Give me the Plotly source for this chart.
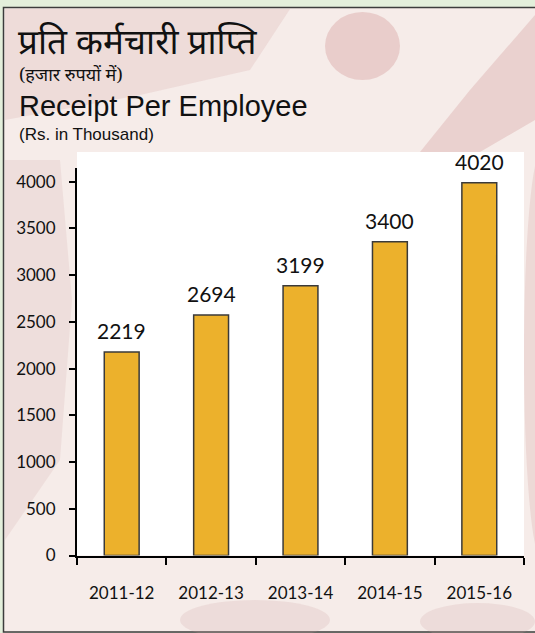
import plotly.graph_objects as go

# ---------------- data ----------------
categories = ["2011-12", "2012-13", "2013-14", "2014-15", "2015-16"]
bar_values = [2178, 2574, 2887, 3358, 3989]          # bar heights as drawn
label_values = ["2219", "2694", "3199", "3400", "4020"]  # printed data labels
y_tick_values = [0, 500, 1000, 1500, 2000, 2500, 3000, 3500, 4000]
y_tick_text = [str(v) for v in y_tick_values]

title_hi = "प्रति कर्मचारी प्राप्ति"
subtitle_hi = "(हजार रुपयों में)"
title_en = "Receipt Per Employee"
subtitle_en = "(Rs. in Thousand)"

# ---------------- layout helpers ----------------
W, H = 535, 633


def px(x):
    return x / W


def py(y):
    return 1 - y / H


NUM_FONT = "Lato, 'Open Sans', sans-serif"

fig = go.Figure(
    go.Bar(
        x=categories,
        y=bar_values,
        cliponaxis=False,
        marker=dict(color="#ECB12C", line=dict(color="#3a3a3a", width=1.5)),
        width=0.39,
        hoverinfo="skip",
    )
)

shapes = [
    # textured panel base
    dict(type="rect", xref="paper", yref="paper", x0=px(3.5), x1=px(560), y0=py(632), y1=py(7.5),
         fillcolor="#f6ece9", line=dict(color="#3c3c3c", width=1.5), layer="below"),
    # soft blotches of the marble background
    dict(type="path", xref="paper", yref="paper",
         path=f"M {px(5)},{py(9)} L {px(290)},{py(9)} L {px(250)},{py(70)} L {px(140)},{py(95)} L {px(5)},{py(120)} Z",
         fillcolor="rgba(215,170,170,0.25)", line=dict(width=0), layer="below"),
    dict(type="circle", xref="paper", yref="paper", x0=px(325), x1=px(400), y0=py(80), y1=py(12),
         fillcolor="rgba(200,125,125,0.28)", line=dict(width=0), layer="below"),
    dict(type="path", xref="paper", yref="paper",
         path=f"M {px(535)},{py(15)} L {px(535)},{py(120)} L {px(480)},{py(152)} L {px(420)},{py(152)} L {px(470)},{py(90)} Z",
         fillcolor="rgba(205,140,140,0.28)", line=dict(width=0), layer="below"),
    dict(type="path", xref="paper", yref="paper",
         path=f"M {px(5)},{py(160)} L {px(60)},{py(160)} L {px(72)},{py(300)} L {px(60)},{py(460)} L {px(5)},{py(540)} Z",
         fillcolor="rgba(210,170,170,0.20)", line=dict(width=0), layer="below"),
    dict(type="circle", xref="paper", yref="paper", x0=px(524), x1=px(560), y0=py(560), y1=py(150),
         fillcolor="rgba(210,160,160,0.25)", line=dict(width=0), layer="below"),
    dict(type="circle", xref="paper", yref="paper", x0=px(180), x1=px(330), y0=py(640), y1=py(600),
         fillcolor="rgba(205,160,160,0.20)", line=dict(width=0), layer="below"),
    dict(type="circle", xref="paper", yref="paper", x0=px(420), x1=px(535), y0=py(640), y1=py(603),
         fillcolor="rgba(205,160,160,0.20)", line=dict(width=0), layer="below"),
    # white plot panel
    dict(type="rect", xref="paper", yref="paper", x0=px(77), x1=px(524), y0=py(555.5), y1=py(152),
         fillcolor="#ffffff", line=dict(width=0), layer="below"),
]

annotations = [
    dict(text=title_hi, xref="paper", yref="paper", x=px(16), y=py(40), xanchor="left", yanchor="middle",
         showarrow=False, font=dict(family="'Noto Serif', 'Noto Sans', serif", size=35, color="#111111")),
    dict(text=subtitle_hi, xref="paper", yref="paper", x=px(17), y=py(74), xanchor="left", yanchor="middle",
         showarrow=False, font=dict(family="'Noto Serif', 'Noto Sans', serif", size=18, color="#111111")),
    dict(text=title_en, xref="paper", yref="paper", x=px(17), y=py(106), xanchor="left", yanchor="middle",
         showarrow=False, font=dict(family="'Liberation Sans', Arial, sans-serif", size=29, color="#111111")),
    dict(text=subtitle_en, xref="paper", yref="paper", x=px(17), y=py(134), xanchor="left", yanchor="middle",
         showarrow=False, font=dict(family="'Liberation Sans', Arial, sans-serif", size=17, color="#111111")),
]

# data labels above bars
for cat, val, lab in zip(categories, bar_values, label_values):
    annotations.append(
        dict(text=lab, x=cat, y=val, xref="x", yref="y", xanchor="center", yanchor="middle",
             yshift=21, showarrow=False,
             font=dict(family=NUM_FONT, size=21, color="#111111"))
    )

fig.update_layout(
    width=W,
    height=H,
    autosize=False,
    margin=dict(l=0, r=0, t=0, b=0, pad=0),
    paper_bgcolor="#e3efdb",
    plot_bgcolor="rgba(0,0,0,0)",
    showlegend=False,
    shapes=shapes,
    annotations=annotations,
    xaxis=dict(
        type="category",
        automargin=False,
        domain=[px(77), px(524)],
        range=[-0.5, 4.5],
        showline=True,
        linecolor="#000000",
        linewidth=2,
        ticks="outside",
        tickson="boundaries",
        ticklen=7,
        tickwidth=1.5,
        tickcolor="#000000",
        ticklabelstandoff=21,
        tickfont=dict(family=NUM_FONT, size=17, color="#111111"),
        showgrid=False,
        zeroline=False,
        fixedrange=True,
    ),
    yaxis=dict(
        automargin=False,
        domain=[py(555.5), py(168)],
        range=[0, 4147],
        showline=True,
        linecolor="#000000",
        linewidth=2,
        ticks="outside",
        ticklen=6,
        tickwidth=2,
        tickcolor="#000000",
        tickvals=y_tick_values,
        ticktext=y_tick_text,
        ticklabelstandoff=10,
        tickfont=dict(family=NUM_FONT, size=17, color="#111111"),
        showgrid=False,
        zeroline=False,
        fixedrange=True,
    ),
)

fig.write_html(
    "out.html",
    config={"displayModeBar": False},
    post_script="document.body.style.margin='0px';document.body.style.padding='0px';",
)
